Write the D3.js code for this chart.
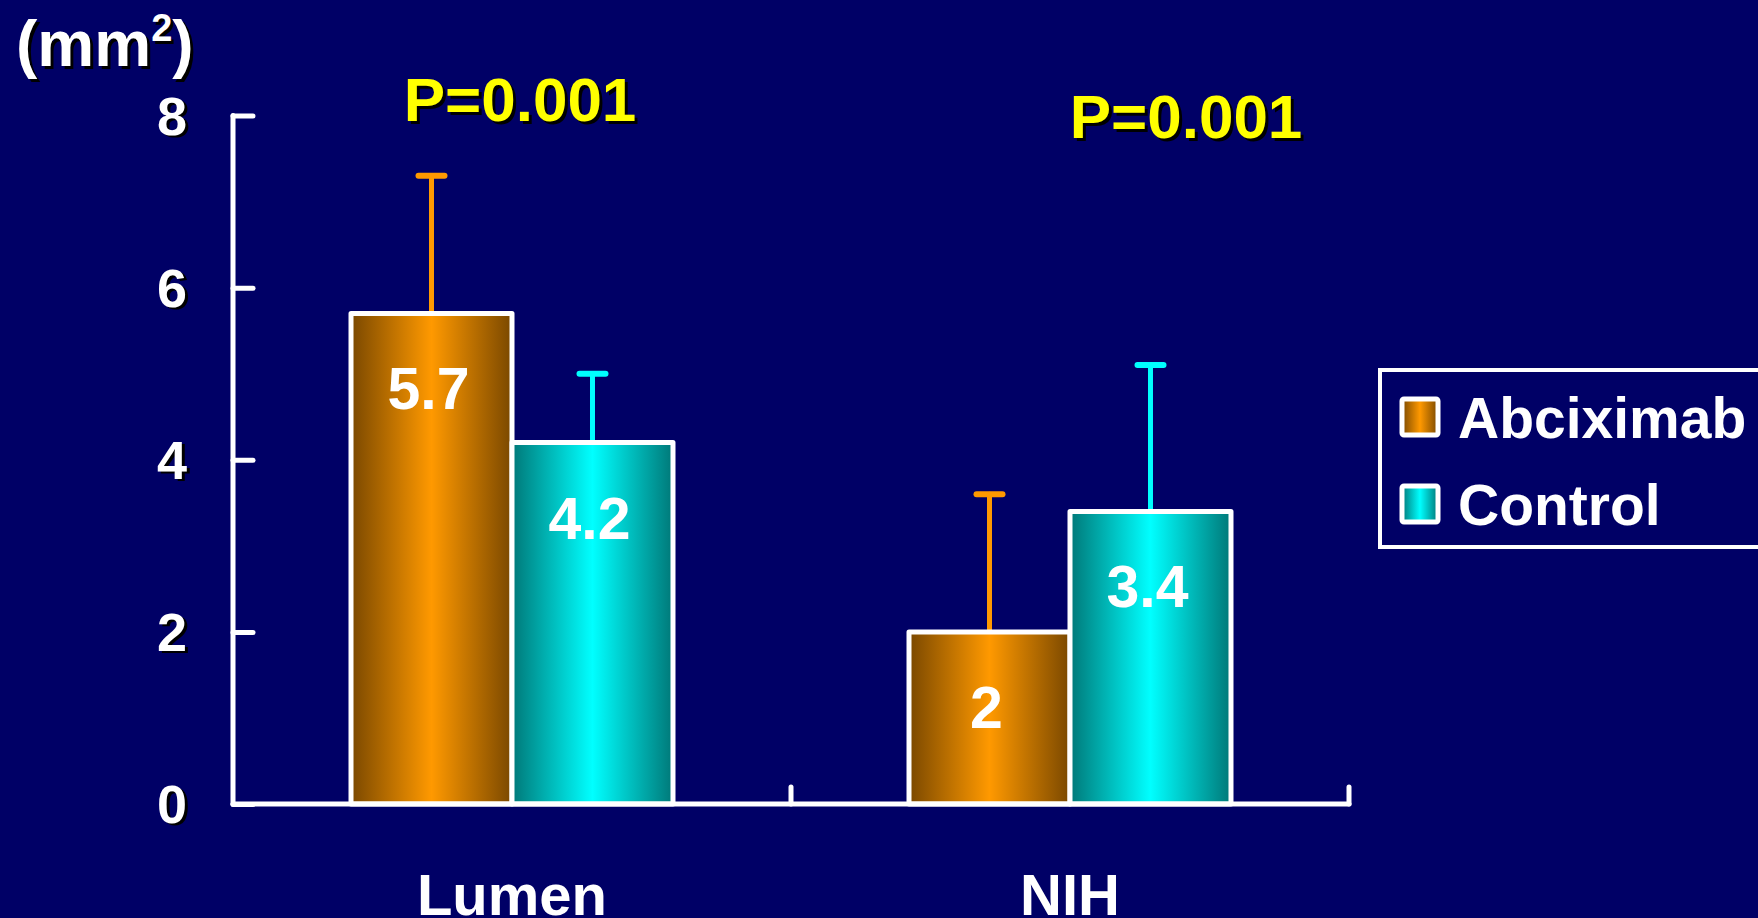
<!DOCTYPE html>
<html><head><meta charset="utf-8">
<script src="https://cdn.jsdelivr.net/npm/d3@7"></script>
<style>
html,body{margin:0;padding:0;background:#000066;overflow:hidden}
text{font-family:"Liberation Sans",Arial,sans-serif;font-weight:bold}
</style></head>
<body>
<svg id="c" width="1758" height="918"></svg>
<script>
const categories = ["Lumen", "NIH"];
const series = ["Abciximab", "Control"];
const abciximab = [5.7, 2.0];
const control = [4.2, 3.4];
const abciximabErr = [1.6, 1.6];
const controlErr = [0.8, 1.7];
const yTicks = [0, 2, 4, 6, 8];
const pValues = ["P=0.001", "P=0.001"];
const unitMain = "(mm";
const unitSup = "2";
const unitClose = ")";

const svg = d3.select("#c");
svg.append("rect").attr("width",1758).attr("height",918).attr("fill","#000066");

const defs = svg.append("defs");
function grad(id, dark, bright){
  const g = defs.append("linearGradient").attr("id",id).attr("x1","0%").attr("x2","100%").attr("y1","0%").attr("y2","0%");
  g.append("stop").attr("offset","0%").attr("stop-color",dark);
  g.append("stop").attr("offset","50%").attr("stop-color",bright);
  g.append("stop").attr("offset","100%").attr("stop-color",dark);
}
grad("gA","#7A4800","#FF9900");
grad("gC","#007878","#00FFFF");
const fills = {Abciximab:"url(#gA)", Control:"url(#gC)"};
const errColors = {Abciximab:"#FF9900", Control:"#00FFFF"};

const y = d3.scaleLinear().domain([0,8]).range([804,115.5]);
const x0 = d3.scaleBand().domain(categories).range([233,1349]).paddingInner(0).paddingOuter(0);
const x1 = d3.scaleBand().domain(series).range([0,x0.bandwidth()]).paddingInner(0).paddingOuter(0.733);

const data = categories.map((c,i)=>({cat:c, vals:[
  {s:"Abciximab", v:abciximab[i], e:abciximabErr[i]},
  {s:"Control", v:control[i], e:controlErr[i]}
]}));

const groups = svg.selectAll("g.grp").data(data).join("g").attr("class","grp")
  .attr("transform",d=>`translate(${x0(d.cat)},0)`);
groups.each(function(d){
  const g = d3.select(this);
  d.vals.forEach(b=>{
    const cx = x1(b.s)+x1.bandwidth()/2;
    g.append("line").attr("x1",cx).attr("x2",cx).attr("y1",y(b.v)).attr("y2",y(b.v+b.e))
      .attr("stroke",errColors[b.s]).attr("stroke-width",5).attr("stroke-linecap","round");
    g.append("line").attr("x1",cx-13).attr("x2",cx+13).attr("y1",y(b.v+b.e)).attr("y2",y(b.v+b.e))
      .attr("stroke",errColors[b.s]).attr("stroke-width",6).attr("stroke-linecap","round");
  });
});
groups.each(function(d){
  const g = d3.select(this);
  d.vals.forEach(b=>{
    g.append("rect").attr("x",x1(b.s)).attr("y",y(b.v)).attr("width",x1.bandwidth()).attr("height",y(0)-y(b.v))
      .attr("fill",fills[b.s]).attr("stroke","white").attr("stroke-width",5).attr("stroke-linejoin","round");
  });
  d.vals.forEach(b=>{
    g.append("text").attr("x",x1(b.s)+x1.bandwidth()/2-3).attr("y",y(b.v)+96)
      .attr("text-anchor","middle").attr("fill","white").attr("font-size",59).text(b.v.toString());
  });
});

// y axis
const yAxis = d3.axisLeft(y).tickValues(yTicks).tickSizeInner(-20).tickSizeOuter(0).tickPadding(46);
const ya = svg.append("g").attr("transform","translate(233,0)").call(yAxis);
ya.select(".domain").remove();
ya.selectAll(".tick line").attr("stroke","white").attr("stroke-width",5).attr("stroke-linecap","round");
ya.selectAll(".tick text").remove();
svg.append("line").attr("x1",233).attr("x2",233).attr("y1",y(8)).attr("y2",y(0))
  .attr("stroke","white").attr("stroke-width",5).attr("stroke-linecap","round");
yTicks.forEach(t=>{
  svg.append("text").attr("x",190).attr("y",y(t)+21).attr("text-anchor","end").attr("fill","black").attr("font-size",54).text(t);
  svg.append("text").attr("x",187).attr("y",y(t)+19).attr("text-anchor","end").attr("fill","white").attr("font-size",54).text(t);
});

// x axis
svg.append("line").attr("x1",233).attr("x2",x0.range()[1]).attr("y1",y(0)).attr("y2",y(0))
  .attr("stroke","white").attr("stroke-width",5).attr("stroke-linecap","round");
const xTickPos = [x0(categories[1]), x0.range()[1]];
xTickPos.forEach(p=>{
  svg.append("line").attr("x1",p).attr("x2",p).attr("y1",y(0)).attr("y2",y(0)-17)
    .attr("stroke","white").attr("stroke-width",5).attr("stroke-linecap","round");
});
const xAxis = d3.axisBottom(x0).tickSize(0).tickPadding(0);
const xa = svg.append("g").attr("transform",`translate(0,${y(0)})`).call(xAxis);
xa.select(".domain").remove();
xa.selectAll(".tick text").attr("font-size",58).attr("fill","white").attr("dy",0).attr("y",111)
  .attr("font-family","Liberation Sans, Arial, sans-serif").attr("font-weight","bold");

// unit label
[[3,"black"],[0,"white"]].forEach(([o,col])=>{
  const t = svg.append("text").attr("x",16+o).attr("y",66+o).attr("fill",col).attr("font-size",64);
  t.append("tspan").text(unitMain);
  t.append("tspan").attr("dy",-25).attr("font-size",38).text(unitSup);
  t.append("tspan").attr("dy",25).attr("font-size",64).text(unitClose);
});

// p-values
const pPos = [{x:520,y:121},{x:1186,y:138}];
pValues.forEach((p,i)=>{
  svg.append("text").attr("x",pPos[i].x+3).attr("y",pPos[i].y+3).attr("text-anchor","middle").attr("fill","black").attr("font-size",62).text(p);
  svg.append("text").attr("x",pPos[i].x).attr("y",pPos[i].y).attr("text-anchor","middle").attr("fill","#FFFF00").attr("font-size",62).text(p);
});

// legend
svg.append("rect").attr("x",1380).attr("y",370).attr("width",420).attr("height",177)
  .attr("fill","none").attr("stroke","white").attr("stroke-width",4);
const ly = [417, 504];
series.forEach((s,i)=>{
  svg.append("rect").attr("x",1402).attr("y",ly[i]-18).attr("width",36).attr("height",36)
    .attr("fill",fills[s]).attr("stroke","white").attr("stroke-width",5).attr("rx",2);
  svg.append("text").attr("x",1458).attr("y",ly[i]+21).attr("fill","white").attr("font-size",57).text(s);
});
</script>
</body></html>
